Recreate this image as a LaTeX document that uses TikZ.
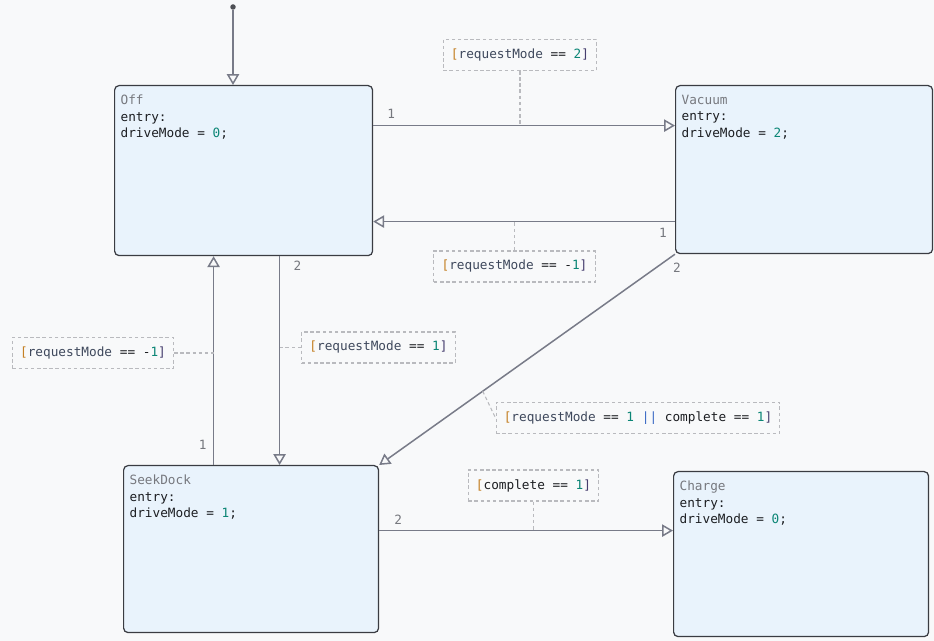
\documentclass[tikz,border=0pt]{standalone}
\usepackage{fontspec}
\usetikzlibrary{arrows.meta,positioning}
\newfontfamily\codefont{DejaVu Sans Mono}
\definecolor{canvas}{RGB}{248,249,250}
\definecolor{statefill}{RGB}{233,243,252}
\definecolor{stateline}{RGB}{58,60,66}
\definecolor{transline}{RGB}{120,123,136}
\definecolor{guardline}{RGB}{185,186,190}
\definecolor{namegray}{RGB}{118,120,126}
\definecolor{codeink}{RGB}{28,30,34}
\definecolor{numteal}{RGB}{12,134,118}
\definecolor{bracketorange}{RGB}{196,128,36}
\definecolor{varslate}{RGB}{62,72,92}
\definecolor{closeink}{RGB}{70,62,110}
\definecolor{orblue}{RGB}{56,104,196}
\newcommand{\numv}[1]{\textcolor{numteal}{#1}}
\newcommand{\reqm}{\textcolor{varslate}{requestMode}}
\newcommand{\guardtext}[1]{\textcolor{bracketorange}{[}#1\textcolor{closeink}{]}}
\newcommand{\statetext}[4]{\parbox[t][#2][t]{#1}{\raggedright
  \textcolor{namegray}{#3}\\entry:\\driveMode = \numv{#4};}}

\begin{document}
\begin{tikzpicture}[x=0.02cm,y=-0.02cm,
    codetext/.style={font=\codefont\fontsize{7.25}{9.45}\selectfont},
    statebox/.style={codetext,draw=stateline,fill=statefill,text=codeink,
      rounded corners=2.5pt,line width=0.7pt,inner xsep=0.12cm,inner ysep=0.19cm,
      anchor=north west},
    guard/.style={codetext,draw=guardline,fill=canvas,text=codeink,
      dash pattern=on 2pt off 1.5pt,line width=0.6pt,inner xsep=4.4pt,
      minimum height=0.62cm},
    guardlink/.style={draw=guardline,dash pattern=on 2pt off 1.5pt,line width=0.6pt},
    trans/.style={draw=transline,line width=0.85pt,
      -{Triangle[open,length=6.2pt,width=7pt]}},
    num/.style={codetext,text=namegray,inner sep=0pt},
    initdot/.style={circle,fill=stateline!90,inner sep=0pt,minimum size=0.11cm}]
  \path[use as bounding box,fill=canvas] (0,0) rectangle (934,641);

  % states
  \node[statebox] (off) at (114,85) {\statetext{4.92cm}{3.02cm}{Off}{0}};
  \node[statebox] (vac) at (675,85) {\statetext{4.90cm}{2.98cm}{Vacuum}{2}};
  \node[statebox] (seek) at (123,465) {\statetext{4.86cm}{2.96cm}{SeekDock}{1}};
  \node[statebox] (charge) at (673,471) {\statetext{4.86cm}{2.92cm}{Charge}{0}};
  \node[initdot] (init) at (233,7) {};

  % guards
  \node[guard] (g1) at (520,55) {\guardtext{\reqm{} == \numv{2}}};
  \node[guard] (g2) at (514.5,266.5) {\guardtext{\reqm{} == -\numv{1}}};
  \node[guard] (g3) at (378.5,347.5) {\guardtext{\reqm{} == \numv{1}}};
  \node[guard] (g4) at (93,353) {\guardtext{\reqm{} == -\numv{1}}};
  \node[guard] (g5) at (638,418)
    {\guardtext{\reqm{} == \numv{1} \textcolor{orblue}{||} complete == \numv{1}}};
  \node[guard] (g6) at (533.5,485.5) {\guardtext{complete == \numv{1}}};

  % transitions
  \draw[trans] (init) -- (init |- off.north);
  \draw[trans] ([yshift=0.9cm]off.east) -- ([yshift=0.9cm]off.east -| vac.west)
    coordinate[pos=0] (t1) node[num,pos=0,xshift=0.36cm,yshift=0.24cm] {1};
  \draw[trans] ([yshift=-1.04cm]vac.west) -- ([yshift=-1.04cm]vac.west -| off.east)
    coordinate[pos=0] (t2) node[num,pos=0,xshift=-0.24cm,yshift=-0.22cm] {1};
  \draw[trans] ([xshift=0.72cm]off.south) -- ([xshift=0.72cm]off.south |- seek.north)
    coordinate[pos=0] (t3) node[num,pos=0,xshift=0.36cm,yshift=-0.2cm] {2};
  \draw[trans] ([xshift=-0.6cm]off.south |- seek.north) -- ([xshift=-0.6cm]off.south)
    coordinate[pos=0] (t4) node[num,pos=0,xshift=-0.22cm,yshift=0.4cm] {1};
  \draw[trans] (vac.south west) -- (seek.north east)
    coordinate[pos=0.65] (t5) node[num,pos=0,xshift=0.04cm,yshift=-0.28cm] {2};
  \draw[trans] ([yshift=0.37cm]seek.east) -- ([yshift=0.37cm]seek.east -| charge.west)
    coordinate[pos=0] (t6) node[num,pos=0,xshift=0.38cm,yshift=0.22cm] {2};

  % guard links
  \draw[guardlink] (g1.south) -- (g1.south |- t1);
  \draw[guardlink] (g2.north) -- (g2.north |- t2);
  \draw[guardlink] (g3.west) -- (g3.west -| t3);
  \draw[guardlink] (g4.east) -- (g4.east -| t4);
  \draw[guardlink] (t5) -- (g5.west);
  \draw[guardlink] (g6.south) -- (g6.south |- t6);
\end{tikzpicture}
\end{document}
